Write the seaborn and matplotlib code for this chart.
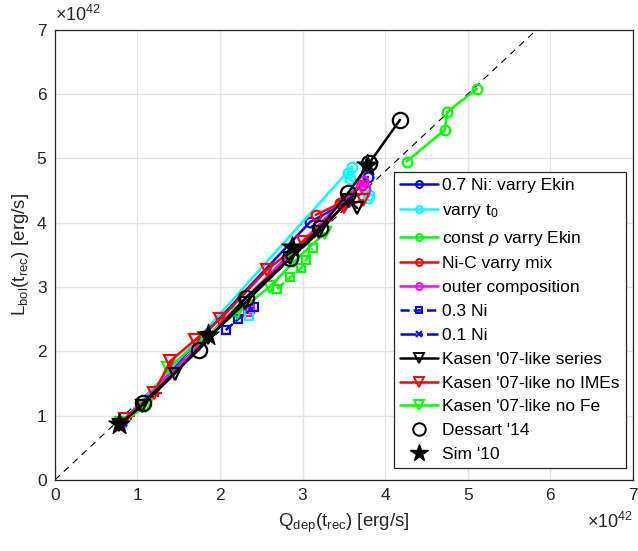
import numpy as np
import pandas as pd
import matplotlib
matplotlib.use("Agg")
import matplotlib.pyplot as plt
from matplotlib.lines import Line2D
import seaborn as sns

# ---- data (units of 1e42 erg/s) ----
ni07_q = [0.80, 3.09, 3.53, 3.79]
ni07_l = [0.88, 4.01, 4.32, 4.71]

t0_q = [0.81, 3.60, 3.55, 3.57, 3.81, 3.79]
t0_l = [0.88, 4.87, 4.77, 4.68, 4.43, 4.39]

rho_q = [4.26, 4.72, 4.75, 5.11]
rho_l = [4.95, 5.44, 5.72, 6.08]

nic_q = [3.16, 3.45, 3.72]
nic_l = [4.12, 4.30, 4.58]

outer_q = [0.79, 3.73, 3.76]
outer_l = [0.87, 4.65, 4.52]

ni03_q = [2.07, 2.22, 2.41]
ni03_l = [2.33, 2.50, 2.69]

ni01_q = [0.78, 0.82]
ni01_l = [0.86, 0.90]

kas_q = [0.78, 1.05, 1.45, 1.85, 2.30, 2.85, 3.20, 3.55, 3.66]
kas_l = [0.86, 1.15, 1.65, 2.20, 2.75, 3.45, 3.85, 4.35, 4.23]

kasnoime_q = [0.85, 1.20, 1.40, 1.70, 2.00, 2.57, 3.00, 3.50, 3.73]
kasnoime_l = [0.95, 1.35, 1.85, 2.18, 2.50, 3.27, 3.70, 4.25, 4.35]

kasnofe_q = [0.80, 1.10, 1.37, 1.80, 2.20, 2.60, 2.90, 3.27]
kasnofe_l = [0.88, 1.15, 1.74, 2.20, 2.60, 3.00, 3.40, 3.84]

# unlabelled extra squares / crosses
gsq_q = [2.69, 2.85, 2.98, 3.04, 3.12]
gsq_l = [2.97, 3.15, 3.29, 3.42, 3.60]
msq_q = [2.34, 2.36]
msq_l = [2.61, 2.66]
csq_q = [2.35]
csq_l = [2.55]
redx_q = [0.92, 1.00, 1.15, 1.25]
redx_l = [1.00, 1.10, 1.30, 1.35]

dess_q = [1.07, 1.74, 2.31, 2.85, 3.21, 3.55, 3.81, 4.18]
dess_l = [1.20, 2.02, 2.83, 3.45, 3.92, 4.46, 4.93, 5.60]

sim_q = [0.78, 1.85, 2.87, 3.78]
sim_l = [0.87, 2.25, 3.62, 4.90]

ref_slope = 1.2
ticks = [0, 1, 2, 3, 4, 5, 6, 7]

sns.set_style("white")
plt.rcParams['font.family'] = ['Liberation Sans', 'DejaVu Sans']
plt.rcParams['mathtext.fontset'] = 'custom'
plt.rcParams['mathtext.rm'] = 'Liberation Sans'
plt.rcParams['mathtext.it'] = 'Liberation Sans:italic'

fig = plt.figure(figsize=(6.38, 5.51), dpi=100)
ax = fig.add_axes([0.086, 0.129, 0.906, 0.817])

# reference line L = 1.2 Q
ax.plot([0, 7 / ref_slope], [0, 7], ls=(0, (6, 5)), color='black', lw=0.8, zorder=1)


def line(q, l, color, marker, ms, ls='-', lw=1.8, mfc='none', mew=1.6, z=3):
    df = pd.DataFrame({'q': q, 'l': l})
    sns.lineplot(data=df, x='q', y='l', sort=False, estimator=None, ax=ax,
                 color=color, marker=marker, markersize=ms, linestyle=ls,
                 linewidth=lw, markerfacecolor=mfc, markeredgecolor=color,
                 markeredgewidth=mew, zorder=z)


line(gsq_q, gsq_l, '#00ff00', 's', 6, ls='--')
line(msq_q, msq_l, '#ff00ff', 's', 6, ls='--')
line(csq_q, csq_l, '#00ffff', 's', 6, ls='--')
line(redx_q, redx_l, '#ff0000', '+', 6, ls='none', lw=0)
line(ni07_q, ni07_l, '#0000ff', 'o', 7)
line(t0_q, t0_l, '#00ffff', 'o', 7)
line(rho_q, rho_l, '#00ff00', 'o', 7)
line(nic_q, nic_l, '#ff0000', 'o', 7)
line(outer_q, outer_l, '#ff00ff', 'o', 7)
line(ni03_q, ni03_l, '#0000ff', 's', 6, ls='--')
line(ni01_q, ni01_l, '#0000ff', 'x', 6, ls='-.')
line(kasnofe_q, kasnofe_l, '#00ff00', 'v', 8)
line(kasnoime_q, kasnoime_l, '#ff0000', 'v', 8)
line(kas_q, kas_l, 'black', 'v', 8)
line(dess_q, dess_l, 'black', 'o', 11, z=5)
sns.scatterplot(x=sim_q, y=sim_l, marker='*', s=260, color='black',
                edgecolor='black', linewidth=0.8, ax=ax, zorder=6)

ax.set_xlim(0, 7)
ax.set_ylim(0, 7)
ax.set_xticks(ticks)
ax.set_yticks(ticks)
ax.set_xticklabels([str(t) for t in ticks])
ax.set_yticklabels([str(t) for t in ticks])
ax.grid(True, color='#e3e3e3', lw=1.0, zorder=0)
ax.set_axisbelow(True)
for s in ax.spines.values():
    s.set_color('#262626')
    s.set_linewidth(0.9)
ax.tick_params(axis='both', direction='in', length=4, labelsize=12.5,
               colors='#262626', top=False, right=False, pad=6)
ax.set_xlabel(r'Q$_{\rm dep}$(t$_{\rm rec}$) [erg/s]', fontsize=13.5, color='#262626', labelpad=6)
ax.set_ylabel(r'L$_{\rm bol}$(t$_{\rm rec}$) [erg/s]', fontsize=13.5, color='#262626', labelpad=4)

fig.text(0.086, 0.955, r'$\times$10$^{42}$', fontsize=13, color='#262626', ha='left', va='bottom')
fig.text(0.992, 0.035, r'$\times$10$^{42}$', fontsize=13, color='#262626', ha='right', va='bottom')

def h(color, marker, ms, ls='-', lw=1.8):
    return Line2D([], [], color=color, marker=marker, markersize=ms, linestyle=ls,
                  linewidth=lw, markerfacecolor='none', markeredgewidth=1.4)

handles = [
    h('#0000ff', 'o', 5), h('#00ffff', 'o', 5), h('#00ff00', 'o', 5),
    h('#ff0000', 'o', 5), h('#ff00ff', 'o', 5), h('#0000ff', 's', 5, '--'),
    h('#0000ff', 'x', 5, '-.'), h('black', 'v', 7), h('#ff0000', 'v', 7),
    h('#00ff00', 'v', 7), h('black', 'o', 9, 'none'),
    Line2D([], [], color='black', marker='*', markersize=13, linestyle='none'),
]
labels = ['0.7 Ni: varry Ekin', r'varry t$_0$', r'const $\rho$ varry Ekin',
          'Ni-C varry mix', 'outer composition', '0.3 Ni', '0.1 Ni',
          "Kasen '07-like series", "Kasen '07-like no IMEs",
          "Kasen '07-like no Fe", "Dessart '14", "Sim '10"]
leg = ax.legend(handles, labels, loc='upper left', bbox_to_anchor=(0.586, 0.684),
                fontsize=12.5, frameon=True, fancybox=False, edgecolor='#262626',
                framealpha=1, handlelength=2.2, handletextpad=0.25,
                labelspacing=0.5, borderpad=0.35, borderaxespad=0)
leg.get_frame().set_linewidth(0.9)
for t in leg.get_texts():
    t.set_color('black')

fig.savefig('out.png', dpi=100)
